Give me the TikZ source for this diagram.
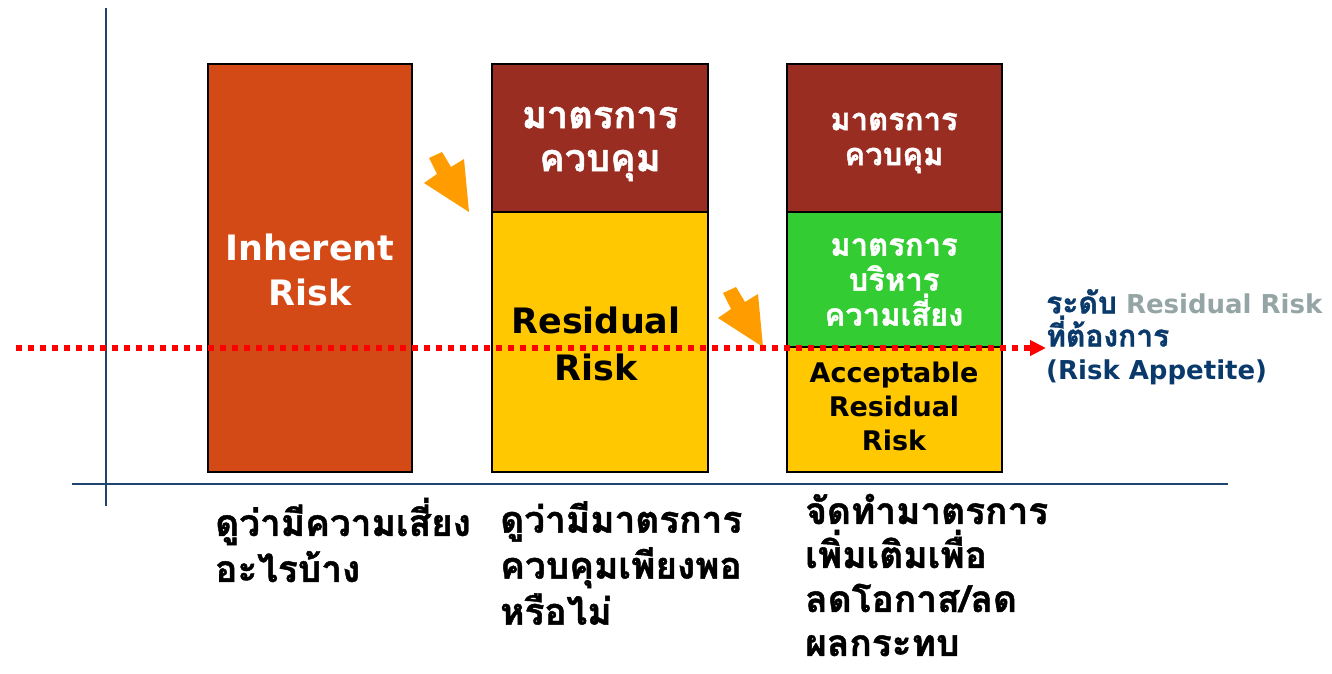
\documentclass[tikz,border=0pt]{standalone}
\usepackage{fontspec}
\setmainfont{DejaVu Sans}
\newfontfamily\thaifont[Script=Thai, BoldFeatures={FakeBold=1.2}]{Loma}
\usetikzlibrary{arrows.meta}
\newcommand\tht[1]{{\thaifont\fontsize{30}{33}\selectfont #1}}
\definecolor{inhorange}{HTML}{D34A17}
\definecolor{ctrlred}{HTML}{992D22}
\definecolor{resyellow}{HTML}{FFC800}
\definecolor{mgreen}{HTML}{33CC33}
\definecolor{arroworange}{HTML}{FF9D00}
\definecolor{axisnavy}{HTML}{1F4470}
\definecolor{lblnavy}{HTML}{0A3A6B}
\definecolor{lblgray}{HTML}{95A5A6}
\definecolor{riskred}{HTML}{FF0000}
\begin{document}
\begin{tikzpicture}[x=1pt,y=-1pt,
  box/.style={draw=black, line width=2pt, anchor=north west, inner sep=0, outer sep=0},
  whitetxt/.style={text=white, inner sep=0, align=center},
  blacktxt/.style={text=black, inner sep=0, align=center},
  bottomtxt/.style={text=black, inner sep=0, align=left, anchor=west,
     font=\bfseries\thaifont\fontsize{37}{46}\selectfont},
  axisline/.style={draw=axisnavy, line width=2pt},
  riskline/.style={draw=riskred, line width=5.5pt, dash pattern=on 6pt off 6pt,
     -{Triangle[length=16pt,width=15pt,fill=riskred]}},
  blockarrow/.pic={\fill[arroworange] (-40,-54) -- (-27,-60) -- (-18,-45) -- (-5,-53) -- (0,0) -- (-45,-29) -- (-32,-38) -- cycle;}
]
\useasboundingbox[fill=white] (0,0) rectangle (1332,674);

% axes
\draw[axisline] (106,8) -- (106,506);
\draw[axisline] (72,484) -- (1228,484);

% boxes
\node[box, fill=inhorange, minimum width=204pt, minimum height=408pt] (inherent) at (208,64) {};
\node[box, fill=ctrlred, minimum width=216pt, minimum height=148pt] (ctrlA) at (492,64) {};
\node[box, fill=resyellow, minimum width=216pt, minimum height=260pt] (resid) at (492,212) {};
\node[box, fill=ctrlred, minimum width=215pt, minimum height=148pt] (ctrlB) at (787,64) {};
\node[box, fill=mgreen, minimum width=215pt, minimum height=135pt] (manage) at (787,212) {};
\node[box, fill=resyellow, minimum width=215pt, minimum height=125pt] (accept) at (787,347) {};

% box texts
\node[whitetxt, font=\bfseries\fontsize{35}{45}\selectfont] (tinh) at (310,270) {Inherent\\Risk};
\node[whitetxt, font=\bfseries\thaifont\fontsize{38}{43}\selectfont] (tctrlA) at (600,144) {มาตรการ\\ควบคุม};
\node[blacktxt, font=\bfseries\fontsize{35}{47}\selectfont] (tresid) at (596,344) {Residual\\Risk};
\node[whitetxt, font=\bfseries\thaifont\fontsize{31}{35}\selectfont] (tctrlB) at (894,143) {มาตรการ\\ควบคุม};
\node[whitetxt, font=\bfseries\thaifont\fontsize{31}{35}\selectfont] (tmanage) at (894,282) {มาตรการ\\บริหาร\\ความเสี่ยง};
\node[blacktxt, font=\bfseries\fontsize{27}{34}\selectfont] (taccept) at (894,406) {Acceptable\\Residual\\Risk};

% block arrows
\pic at (469,212) {blockarrow};
\pic at (763,347) {blockarrow};

% risk appetite line
\coordinate (rstart) at (16,348);
\coordinate (rend) at (1046,348);
\draw[riskline] (rstart) -- (rend);

% right label
\node[text=lblnavy, inner sep=0, align=left, anchor=west,
  font=\bfseries\fontsize{26}{33}\selectfont] (appetite) at (1046,337)
  {\tht{ระดับ} \textcolor{lblgray}{Residual Risk}\\\tht{ที่ต้องการ}\\(Risk Appetite)};

% bottom labels
\node[bottomtxt] (q1) at (215,540) {ดูว่ามีความเสี่ยง\\อะไรบ้าง};
\node[bottomtxt] (q2) at (500,563) {ดูว่ามีมาตรการ\\ควบคุมเพียงพอ\\หรือไม่};
\node[bottomtxt, font=\bfseries\thaifont\fontsize{37}{44}\selectfont] (q3) at (805,575) {จัดทำมาตรการ\\เพิ่มเติมเพื่อ\\ลดโอกาส/ลด\\ผลกระทบ};
\end{tikzpicture}
\end{document}
